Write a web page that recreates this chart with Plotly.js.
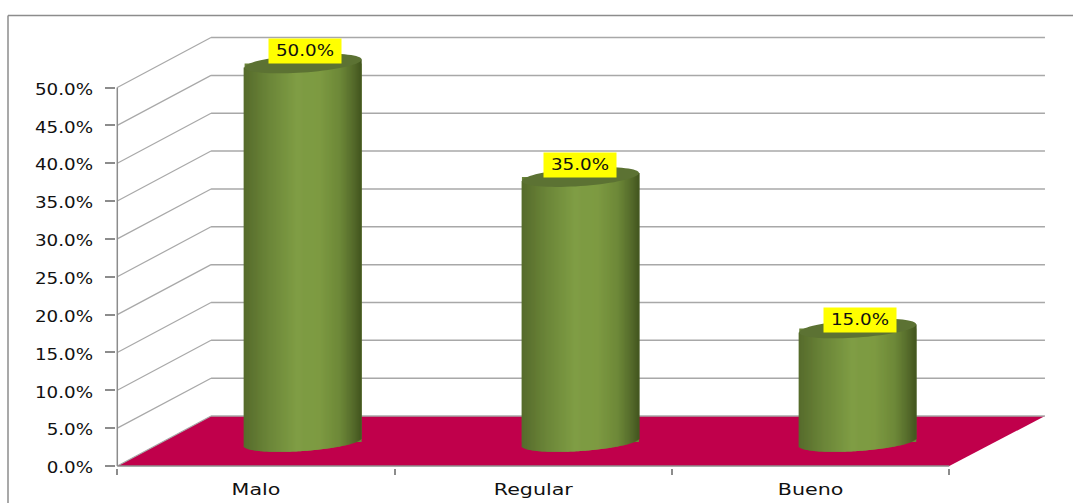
<!DOCTYPE html>
<html>
<head>
<meta charset="utf-8">
<script src="https://cdn.plot.ly/plotly-3.0.1.min.js"></script>
<style>
  html, body { margin: 0; padding: 0; background: #fff; }
  #chart { width: 1073px; height: 503px; }
</style>
</head>
<body>
<div id="chart"></div>
<script>
// Chart data
const categories = ["Malo", "Regular", "Bueno"];
const values = [50, 35, 15];
const wallTicks = [0, 5, 10, 15, 20, 25, 30, 35, 40, 45, 50];

// Page geometry of the pseudo-3D box
const W = 1073, H = 503;
const originX = 117.3, originY = 466;
const pxPerCat = 277.33, pxPerPct = 7.57;
const rightPx = 1048, topPx = 34;
const x0 = -0.006, y0 = -0.2;
const xMax = (rightPx - originX) / pxPerCat;
const yMax = (originY - topPx) / pxPerPct;

// Depth of the box, in axis units
const backLeft = 0.338, backRight = 3.345, lift = 6.6;

// Cylinder shape, in axis units
const centerOffset = 0.67;
const halfWidth = 0.211;
const baseLift = 3.17;
const ellipseB = 1.19;
const shear = 0.53;

// Shading across a cylinder, from its left edge (-1) to its right edge (1)
const shadeStops = [
  [-1, [86, 107, 44]], [-0.6, [106, 132, 56]], [-0.1, [127, 157, 68]],
  [0.3, [125, 154, 66]], [0.65, [109, 136, 56]], [0.88, [84, 106, 43]], [1, [68, 87, 31]]
];
function shade(u) {
  for (let i = 1; i < shadeStops.length; i++) {
    const [a, ca] = shadeStops[i - 1], [b, cb] = shadeStops[i];
    if (u <= b) {
      const f = (u - a) / (b - a);
      return "rgb(" + ca.map((c, k) => Math.round(c + (cb[k] - c) * f)).join(",") + ")";
    }
  }
  return "rgb(68,87,31)";
}

// Vertical strips that give each cylinder its rounded look
const stripCount = 117;
const stripWidth = 2 * halfWidth / stripCount;
const stripX = [], stripBase = [], stripY = [], stripColor = [];
values.forEach((v, i) => {
  const cx = i + centerOffset;
  for (let k = 0; k < stripCount; k++) {
    const u = -1 + (2 * k + 1) / stripCount;
    const bottom = baseLift + shear * u - ellipseB * Math.sqrt(1 - u * u);
    stripX.push(cx + u * halfWidth);
    stripBase.push(bottom);
    stripY.push(baseLift + v + shear * u - bottom);
    stripColor.push(shade(u));
  }
});

const traces = [
  {
    type: "bar", name: "Porcentaje",
    x: values.map((_, i) => i + centerOffset), y: values,
    base: values.map(() => baseLift), width: 2 * halfWidth,
    marker: { color: "#6b8538", line: { width: 0 } }, hoverinfo: "skip"
  },
  {
    type: "bar", name: "Volumen",
    x: stripX, y: stripY, base: stripBase, width: stripWidth * 1.2,
    marker: { color: stripColor, line: { width: 0 } }, hoverinfo: "skip"
  }
];

// Back wall, side wall and floor
const gridStyle = { color: "#a8a8a8", width: 1.5 };
const diagStyle = { color: "#a8a8a8", width: 1.2 };
const shapes = [{
  type: "path", layer: "below", xref: "x", yref: "y",
  path: `M 0 0 L 3 0 L ${backRight} ${lift} L ${backLeft} ${lift} Z`,
  fillcolor: "#c0004b", line: { width: 0 }
}];
wallTicks.forEach(t => {
  shapes.push({ type: "line", layer: "below", xref: "x", yref: "y",
    x0: backLeft, x1: backRight, y0: t + lift, y1: t + lift, line: gridStyle });
  shapes.push({ type: "line", layer: "below", xref: "x", yref: "y",
    x0: 0, x1: backLeft, y0: t, y1: t + lift, line: diagStyle });
});

// Axis lines along the front of the box
const axisStyle = { color: "#8c8c8c", width: 1.5 };
shapes.push({ type: "line", xref: "x", yref: "y", x0: 0, x1: 0, y0: 0, y1: 50, line: axisStyle });
shapes.push({ type: "line", xref: "x", yref: "y", x0: 0, x1: 3, y0: 0, y1: 0, line: axisStyle });

// Top cap of each cylinder, a sheared ellipse placed at the value
values.forEach((v, i) => {
  const cx = i + centerOffset, cy = baseLift + v;
  const pts = [];
  for (let a = 0; a < 72; a++) {
    const t = a / 72 * 2 * Math.PI;
    const c = Math.cos(t), s = Math.sin(t);
    pts.push((a ? "L " : "M ") + (cx + halfWidth * c) + " " + (cy + shear * c + ellipseB * s));
  }
  shapes.push({ type: "path", xref: "x", yref: "y", path: pts.join(" ") + " Z",
    fillcolor: "#5c7233", line: { width: 0 } });
});

// Outer frame on the top and left of the page
const frameStyle = { color: "#8c8c8c", width: 1.5 };
const frameX = 8 / W, frameY = 1 - 15.5 / H;
shapes.push({ type: "line", xref: "paper", yref: "paper", x0: frameX, x1: frameX, y0: 0, y1: frameY, line: frameStyle });
shapes.push({ type: "line", xref: "paper", yref: "paper", x0: frameX, x1: 1, y0: frameY, y1: frameY, line: frameStyle });

// Value labels on yellow boxes
const labelFont = { family: "DejaVu Sans", size: 15, color: "#111111" };
const labelShiftX = [2, 0, 2], labelShiftY = [12, 12, 8];
const annotations = values.map((v, i) => ({
  x: i + centerOffset, y: baseLift + v, xref: "x", yref: "y",
  text: v.toFixed(1) + "%", showarrow: false,
  xshift: labelShiftX[i], yshift: labelShiftY[i],
  width: 72, height: 24, bgcolor: "#ffff00", borderpad: 0,
  font: labelFont
}));

const layout = {
  width: W, height: H,
  margin: { l: 0, r: 0, t: 0, b: 0 },
  paper_bgcolor: "#ffffff", plot_bgcolor: "rgba(0,0,0,0)",
  showlegend: false, barmode: "overlay",
  xaxis: {
    domain: [(originX + x0 * pxPerCat) / W, rightPx / W],
    range: [x0, xMax], showgrid: false, zeroline: false, showline: false,
    tickmode: "array", tickvals: categories.map((_, i) => i + 0.5), ticktext: categories,
    ticks: "", tickfont: { family: "DejaVu Sans", size: 15.5, color: "#111111" },
    ticklabelstandoff: 11,
    minor: { tickmode: "array", tickvals: [0, 1, 2, 3], ticks: "outside", ticklen: 6.5, tickwidth: 1.5, tickcolor: "#8c8c8c", showgrid: false },
    fixedrange: true
  },
  yaxis: {
    domain: [(H - originY + y0 * pxPerPct) / H, (H - topPx) / H],
    range: [y0, yMax], showgrid: false, zeroline: false, showline: false,
    tickmode: "array", tickvals: wallTicks, ticktext: wallTicks.map(t => t.toFixed(1) + "%"),
    ticks: "outside", ticklen: 9.5, tickwidth: 1.5, tickcolor: "#8c8c8c",
    ticklabelstandoff: 9, ticklabelshift: 2,
    tickfont: { family: "DejaVu Sans", size: 15, color: "#111111" },
    fixedrange: true
  },
  shapes, annotations
};

Plotly.newPlot("chart", traces, layout, { displayModeBar: false, responsive: false }).then(gd => {
  // The labels use a wide, horizontally stretched lettering
  const widen = (sel, k) => gd.querySelectorAll(sel).forEach(el => {
    el.setAttribute("textLength", el.getComputedTextLength() * k);
    el.setAttribute("lengthAdjust", "spacingAndGlyphs");
  });
  widen(".ytick text", 1.22);
  widen(".xtick text", 1.33);
  widen(".annotation-text", 1.22);
});
</script>
</body>
</html>
